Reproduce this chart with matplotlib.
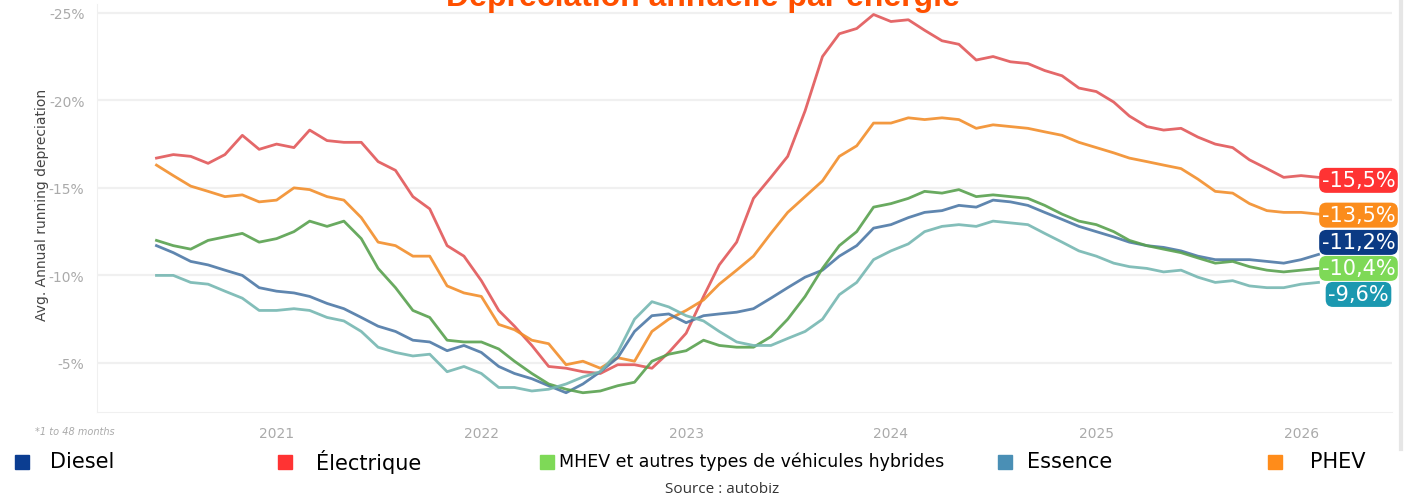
import pandas as pd
import matplotlib.pyplot as plt
import matplotlib.dates as mdates
from matplotlib.patches import Rectangle
from matplotlib.ticker import FuncFormatter

# données mensuelles (dépréciation annuelle moyenne, en % positif)
months = pd.date_range("2020-06-01", periods=69, freq="MS")

electrique = [16.7, 16.9, 16.8, 16.4, 16.9, 18.0, 17.2, 17.5, 17.3, 18.3, 17.7, 17.6, 17.6, 16.5, 16.0,
              14.5, 13.8, 11.7, 11.1, 9.7, 8.0, 7.1, 6.0, 4.8, 4.7, 4.5, 4.4, 4.9, 4.9, 4.7,
              5.6, 6.7, 8.8, 10.6, 11.9, 14.4, 15.6, 16.8, 19.4, 22.5, 23.8, 24.1, 24.9, 24.5, 24.6,
              24.0, 23.4, 23.2, 22.3, 22.5, 22.2, 22.1, 21.7, 21.4, 20.7, 20.5, 19.9, 19.1, 18.5,
              18.3, 18.4, 17.9, 17.5, 17.3, 16.6, 16.1, 15.6, 15.7, 15.6]
phev = [16.3, 15.7, 15.1, 14.8, 14.5, 14.6, 14.2, 14.3, 15.0, 14.9, 14.5, 14.3, 13.3, 11.9, 11.7,
        11.1, 11.1, 9.4, 9.0, 8.8, 7.2, 6.9, 6.3, 6.1, 4.9, 5.1, 4.7, 5.3, 5.1, 6.8,
        7.5, 8.0, 8.6, 9.5, 10.3, 11.1, 12.4, 13.6, 14.5, 15.4, 16.8, 17.4, 18.7, 18.7, 19.0,
        18.9, 19.0, 18.9, 18.4, 18.6, 18.5, 18.4, 18.2, 18.0, 17.6, 17.3, 17.0, 16.7, 16.5,
        16.3, 16.1, 15.5, 14.8, 14.7, 14.1, 13.7, 13.6, 13.6, 13.5]
mhev = [12.0, 11.7, 11.5, 12.0, 12.2, 12.4, 11.9, 12.1, 12.5, 13.1, 12.8, 13.1, 12.1, 10.4, 9.3,
        8.0, 7.6, 6.3, 6.2, 6.2, 5.8, 5.1, 4.4, 3.8, 3.5, 3.3, 3.4, 3.7, 3.9, 5.1,
        5.5, 5.7, 6.3, 6.0, 5.9, 5.9, 6.5, 7.5, 8.8, 10.4, 11.7, 12.5, 13.9, 14.1, 14.4,
        14.8, 14.7, 14.9, 14.5, 14.6, 14.5, 14.4, 14.0, 13.5, 13.1, 12.9, 12.5, 12.0, 11.7,
        11.5, 11.3, 11.0, 10.7, 10.8, 10.5, 10.3, 10.2, 10.3, 10.4]
diesel = [11.7, 11.3, 10.8, 10.6, 10.3, 10.0, 9.3, 9.1, 9.0, 8.8, 8.4, 8.1, 7.6, 7.1, 6.8,
          6.3, 6.2, 5.7, 6.0, 5.6, 4.8, 4.4, 4.1, 3.7, 3.3, 3.8, 4.5, 5.3, 6.8, 7.7,
          7.8, 7.3, 7.7, 7.8, 7.9, 8.1, 8.7, 9.3, 9.9, 10.3, 11.1, 11.7, 12.7, 12.9, 13.3,
          13.6, 13.7, 14.0, 13.9, 14.3, 14.2, 14.0, 13.6, 13.2, 12.8, 12.5, 12.2, 11.9, 11.7,
          11.6, 11.4, 11.1, 10.9, 10.9, 10.9, 10.8, 10.7, 10.9, 11.2]
essence = [10.0, 10.0, 9.6, 9.5, 9.1, 8.7, 8.0, 8.0, 8.1, 8.0, 7.6, 7.4, 6.8, 5.9, 5.6,
           5.4, 5.5, 4.5, 4.8, 4.4, 3.6, 3.6, 3.4, 3.5, 3.8, 4.2, 4.5, 5.6, 7.5, 8.5,
           8.2, 7.7, 7.4, 6.8, 6.2, 6.0, 6.0, 6.4, 6.8, 7.5, 8.9, 9.6, 10.9, 11.4, 11.8,
           12.5, 12.8, 12.9, 12.8, 13.1, 13.0, 12.9, 12.4, 11.9, 11.4, 11.1, 10.7, 10.5, 10.4,
           10.2, 10.3, 9.9, 9.6, 9.7, 9.4, 9.3, 9.3, 9.5, 9.6]

end_labels = ["-15,5%", "-13,5%", "-11,2%", "-10,4%", "-9,6%"]
legend_names = ["Diesel", "Électrique", "MHEV et autres types de véhicules hybrides", "Essence", "PHEV"]

# couleurs Tableau pour les lignes
series = [
    (electrique, "#e15759", "#ff3333", -3),
    (phev, "#f28e2b", "#fb8c1c", -1),
    (diesel, "#4e79a7", "#0b3a84", 12),
    (mhev, "#59a14f", "#7ed957", 0),
    (essence, "#76b7b2", "#1b98b0", -12),
]

fig = plt.figure(figsize=(14.16, 5.02), dpi=100)
ax = fig.add_axes([97 / 1416, 1 - 413 / 502, (1392 - 97) / 1416, (413 - 5) / 502])

for vals, col, lab_col, dy in series:
    ax.plot(months, vals, color=col, lw=2.0, alpha=0.9, solid_joinstyle="round")

for (vals, col, lab_col, dy), txt in zip(series, end_labels):
    ax.annotate(txt, xy=(months[-1], vals[-1]), xytext=(40, dy), textcoords="offset pixels",
                ha="center", va="center", color="white", fontsize=15, family="DejaVu Sans",
                bbox=dict(boxstyle="round,pad=0.12,rounding_size=0.35", fc=lab_col, ec="none"))

ax.set_ylim(2.2, 25.5)
ax.set_xlim(pd.Timestamp("2020-02-16"), pd.Timestamp("2026-06-12"))
ax.set_yticks([5, 10, 15, 20, 25])
ax.yaxis.set_major_formatter(FuncFormatter(lambda v, p: f"-{v:.0f}%"))
ax.xaxis.set_major_locator(mdates.YearLocator())
ax.xaxis.set_major_formatter(mdates.DateFormatter("%Y"))
ax.tick_params(length=0, labelsize=10, labelcolor="#aaaaaa", pad=10)
ax.tick_params(axis="y", pad=9)
ax.grid(axis="y", color="#f0f0f0", lw=1.6)
ax.set_axisbelow(True)
for s in ["top", "right"]:
    ax.spines[s].set_visible(False)
for s in ["left", "bottom"]:
    ax.spines[s].set_color("#f0f0f0")
ax.set_ylabel("Avg. Annual running depreciation", fontsize=10, color="#444444", labelpad=-2)
ax.yaxis.set_label_coords(-0.037, 0.51)

fig.text(35 / 1416, 1 - 432 / 502, "*1 to 48 months", fontsize=7, color="#aaaaaa",
         style="italic", va="center")

# titre coupé en haut
fig.text(703 / 1416, 1 - 6 / 502, "Dépréciation annuelle par énergie", ha="center", va="baseline",
         fontsize=23, fontweight="bold", color="#ff5000", family="Liberation Sans")

# bordure grise à droite
fig.add_artist(plt.Line2D([1401 / 1416, 1401 / 1416], [1 - 450 / 502, 1], color="#e6e6e6",
                          lw=3, transform=fig.transFigure))

# légende manuelle
leg_colors = ["#0b3d91", "#ff3333", "#7ed957", "#4a8fb5", "#ff8c1a"]
sq_x = [15, 278, 540, 998, 1268]
txt_x = [50, 316, 559, 1027, 1310]
txt_size = [15, 15, 12.5, 15, 15]
for name, c, sx, tx, fs in zip(legend_names, leg_colors, sq_x, txt_x, txt_size):
    fig.add_artist(Rectangle((sx / 1416, 1 - 470 / 502), 14 / 1416, 14 / 502, color=c,
                             transform=fig.transFigure))
    fig.text(tx / 1416, 1 - 462 / 502, name, fontsize=fs, color="black", va="center")

fig.text(722 / 1416, 1 - 490 / 502, "Source : autobiz", ha="center", va="center",
         fontsize=11, color="#333333", family="Open Sans")

plt.savefig("out.png", dpi=100)
